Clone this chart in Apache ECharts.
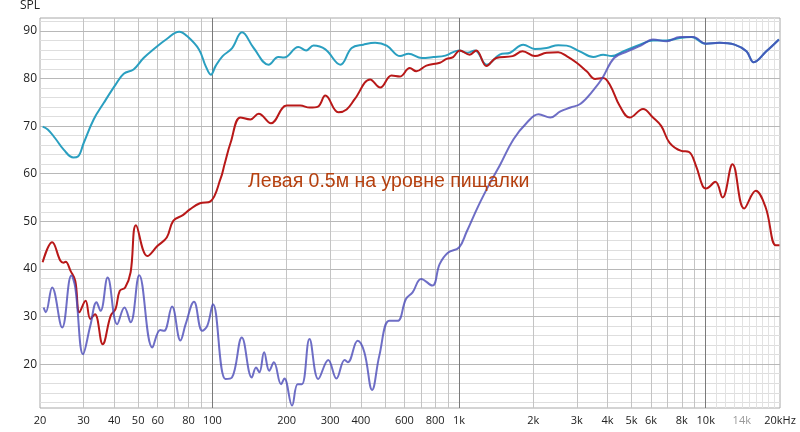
<!DOCTYPE html>
<html>
<head>
<meta charset="utf-8">
<script src="https://cdn.jsdelivr.net/npm/echarts@6/dist/echarts.min.js"></script>
<style>
  html, body { margin: 0; background: #fff; }
  #chart { width: 800px; height: 432px; }
</style>
</head>
<body>
<div id="chart"></div>
<script>
// голубая кривая
var cyanFreq = [20.5, 21.5, 23, 25, 27.3, 28.5, 30.1, 33, 36.3, 40.5, 43.7, 47.9, 52.6, 57.6, 65.3, 73.3, 78.9, 88.2, 93.9, 98.6,
  103, 110, 120, 131.8, 147, 169, 185, 195, 223, 240, 257, 287, 330, 367, 409, 457, 509, 577, 624, 706, 787, 880,
  1000, 1080, 1160, 1294, 1460, 1610, 1820, 2030, 2264, 2523, 2729, 3083, 3500, 3838, 4150, 4624, 5405, 6111, 6934,
  7850, 8750, 10000, 11380, 13090, 14620, 15640, 17600, 19800];
var cyanDb = [69.9, 69.3, 67.5, 65, 63.4, 63.6, 66.5, 71.4, 74.9, 78.7, 81, 81.9, 84.3, 86.1, 88.3, 89.8, 88.9, 86.1, 82.6, 80.8,
  82.6, 84.7, 86.3, 89.7, 86.4, 82.9, 84.5, 84.4, 86.6, 85.9, 86.9, 86.1, 82.9, 86.4, 87.1, 87.5, 86.9, 84.7, 85.2, 84.3, 84.5, 84.8,
  85.9, 85.4, 85.9, 82.9, 85.0, 85.4, 87.1, 86.2, 86.4, 87.0, 86.9, 85.7, 84.5, 85.0, 84.7, 85.7, 87.1, 88.0, 88.0,
  88.5, 88.7, 87.3, 87.5, 87.1, 85.7, 83.4, 85.7, 88.2];

// красная кривая
var redFreq = [20.5, 22.4, 24.2, 24.9, 25.4, 26.6, 27.8, 28.9, 30.6, 32.0, 33.4, 35.9, 38.7, 40.5, 42.1, 44.3, 46.6, 49.0,
  54.5, 59.8, 65.3, 69.4, 75.9, 81, 89, 98.2, 108, 112, 118.5, 130, 142.6, 154, 172.7, 200, 227, 248, 268, 287, 324, 350,
  378, 436, 479, 532, 575, 631, 671, 737, 836, 889, 946, 1006, 1104, 1174, 1292, 1413, 1648, 1809, 2030, 2264, 2522,
  2729, 2997, 3290, 3559, 3838, 4085, 4482, 4920, 5568, 6111, 6605, 7137, 7958, 8538, 9138, 9720, 10030, 10940, 11700,
  12840, 14310, 15950, 17500, 19200, 19900];
var redDb = [41.4, 45.6, 41.7, 41.3, 41.5, 39.6, 37.5, 30.9, 33.3, 29.5, 30.5, 24.2, 30.2, 31.6, 35.4, 36.1, 39.3, 49.2,
  42.7, 44.8, 46.6, 50.1, 51.3, 52.5, 53.8, 54.2, 59, 62, 66.5, 71.8, 71.4, 72.6, 70.6, 74.3, 74.3, 73.9, 74.1, 76.4, 72.9, 73.5,
  75.7, 79.8, 78.1, 80.6, 80.4, 82.2, 81.5, 82.7, 83.3, 84.1, 84.5, 85.9, 85.0, 85.9, 82.6, 84.3, 84.7, 85.7, 84.7, 85.4, 85.5,
  84.7, 83.3, 81.5, 79.9, 80.1, 78.7, 74.2, 71.8, 73.6, 71.8, 70.0, 66.5, 64.8, 64.6, 61.6, 57.4, 56.9, 58.3, 55.0,
  62.0, 52.7, 56.4, 52.9, 45.0, 45.0];

// фиолетовая кривая
var purpleFreq = [20.7, 21.1, 22.4, 24.6, 26.8, 27.8, 29.9, 32.0, 33.9, 35.2, 37.6, 41.1, 44.0, 46.6, 50.5, 57.1, 61.4, 63.7,
  68.6, 74.2, 77.9, 84.2, 90.9, 95.4, 100.5, 112.9, 120, 131.6, 144.4, 150.3, 155, 162, 170, 177.5, 189.9, 195.8, 210.3,
  221.5, 230.6, 247.5, 268.7, 294.8, 318.2, 343.4, 354, 388, 413, 444, 475, 521, 563, 609, 648, 702, 779, 834, 901, 1000,
  1071, 1196, 1336, 1467, 1660, 1882, 2099, 2344, 2575, 2829, 3108, 3523, 3812, 4250, 4814, 5450, 6111, 6934, 7860, 8900,
  10000, 11380, 13090, 14620, 15640, 17600, 19800];
var purpleDb = [31.9, 30.9, 36.1, 27.7, 38.6, 36.1, 22.1, 28.1, 33.0, 31.2, 38.2, 28.4, 31.9, 28.8, 38.7, 23.5, 27.2, 27.0,
  32.1, 25.0, 28.4, 33.1, 27.0, 28.1, 32.6, 16.9, 17.2, 25.6, 17.2, 19.3, 18.3, 22.5, 18.6, 20.4, 15.8, 17.0, 11.3,
  15.8, 15.8, 25.3, 16.9, 20.9, 17.0, 20.9, 20.4, 24.9, 22.5, 14.6, 21.8, 29.1, 29.1, 33.7, 35.1, 37.9, 36.5, 41.0, 43.4, 44.5,
  47.7, 53.2, 58.1, 61.9, 67.2, 70.7, 72.5, 71.8, 73.1, 73.9, 74.7, 77.7, 80.1, 84.3, 85.7, 86.9, 88.2, 87.8, 88.7, 88.7,
  87.3, 87.5, 87.1, 85.7, 83.4, 85.7, 88.2];

// подписи осей
var xLabels = [20, 30, 40, 50, 60, 80, 100, 200, 300, 400, 600, 800, 1000, 2000, 3000, 4000, 5000, 6000, 8000, 10000, 14000, 20000];
var yLabels = [20, 30, 40, 50, 60, 70, 80, 90];

// линии сетки
var xDecade = [100, 1000, 10000];
var xMinor = [30, 40, 50, 60, 70, 80, 90, 200, 300, 400, 500, 600, 700, 800, 900,
  2000, 3000, 4000, 5000, 6000, 7000, 8000, 9000];
var xFine = [11000, 12000, 13000, 14000, 15000, 16000, 17000, 18000, 19000];
var yMajor = [20, 30, 40, 50, 60, 70, 80, 90];
var yMinor = [12, 14, 16, 18, 22, 24, 26, 28, 32, 34, 36, 38, 42, 44, 46, 48, 52, 54, 56, 58,
  62, 64, 66, 68, 72, 74, 76, 78, 82, 84, 86, 88, 92];

function pairs(f, v) {
  return f.map(function (x, i) { return [x, v[i]]; });
}

function gl(key, v, color) {
  var o = { lineStyle: { color: color, width: 1, type: 'solid' } };
  o[key] = v;
  return o;
}

var gridLines = [];
yMinor.forEach(function (v) { gridLines.push(gl('yAxis', v, '#dedede')); });
xFine.forEach(function (v) { gridLines.push(gl('xAxis', v, '#e2e2e2')); });
xMinor.forEach(function (v) { gridLines.push(gl('xAxis', v, '#c4c4c4')); });
yMajor.forEach(function (v) { gridLines.push(gl('yAxis', v, '#b8b8b8')); });
xDecade.forEach(function (v) { gridLines.push(gl('xAxis', v, '#7a7a7a')); });

var chart = echarts.init(document.getElementById('chart'));
chart.setOption({
  animation: false,
  backgroundColor: '#fff',
  title: [
    {
      text: 'SPL', left: 20, top: 0, padding: 0,
      textStyle: { fontFamily: 'Open Sans', fontSize: 12, fontWeight: 'normal', color: '#222' }
    },
    {
      text: 'Левая 0.5м на уровне пищалки', left: 248, top: 172, padding: 0,
      textStyle: { fontFamily: 'Liberation Sans', fontSize: 19.5, fontWeight: 'normal', color: '#b5400f' }
    }
  ],
  grid: { left: 40, right: 20, top: 18, bottom: 24, show: true, borderColor: '#a8a8a8', borderWidth: 1 },
  xAxis: {
    type: 'log', logBase: 10, min: 20, max: 20000,
    axisLine: { show: false }, axisTick: { show: false }, splitLine: { show: false },
    axisLabel: {
      customValues: xLabels, margin: 7,
      fontFamily: 'Open Sans', fontSize: 11, color: '#222',
      formatter: function (v) {
        if (v === 20000) return '20kHz';
        if (v === 14000) return '{g|14k}';
        return v >= 1000 ? (v / 1000) + 'k' : String(v);
      },
      rich: { g: { color: '#999', fontFamily: 'Open Sans', fontSize: 11 } }
    }
  },
  yAxis: {
    type: 'value', min: 10.8, max: 92.7,
    axisLine: { show: false }, axisTick: { show: false }, splitLine: { show: false },
    axisLabel: { customValues: yLabels, margin: 3, fontFamily: 'Open Sans', fontSize: 12, color: '#222' }
  },
  series: [
    {
      type: 'line', data: [], z: 1, silent: true,
      markLine: { z: 0, silent: true, symbol: ['none', 'none'], label: { show: false }, data: gridLines }
    },
    {
      name: 'cyan', type: 'line', data: pairs(cyanFreq, cyanDb), smooth: 0.4, showSymbol: false, z: 3,
      lineStyle: { color: '#2a9fc0', width: 2 }
    },
    {
      name: 'red', type: 'line', data: pairs(redFreq, redDb), smooth: 0.4, showSymbol: false, z: 4,
      lineStyle: { color: '#b81818', width: 2 }
    },
    {
      name: 'purple', type: 'line', data: pairs(purpleFreq, purpleDb), smooth: 0.4, showSymbol: false, z: 5,
      lineStyle: { color: '#4a4ab8', width: 2, opacity: 0.8 }
    }
  ]
});
</script>
</body>
</html>
